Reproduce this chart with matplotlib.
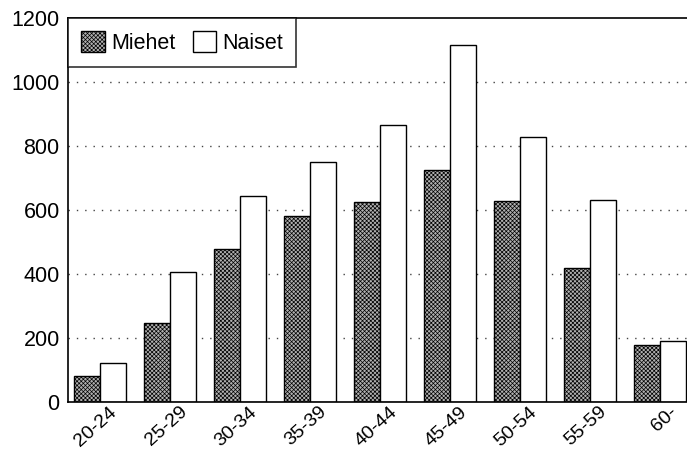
import numpy as np
import matplotlib
matplotlib.use("Agg")
import matplotlib.pyplot as plt
import matplotlib.transforms as mtransforms

plt.rcParams['font.family'] = ['Liberation Sans', 'DejaVu Sans']
plt.rcParams['hatch.color'] = '#5e5e5e'
plt.rcParams['hatch.linewidth'] = 0.5

# data
age_groups = ["20-24", "25-29", "30-34", "35-39", "40-44", "45-49", "50-54", "55-59", "60-"]
miehet = [80, 247, 477, 583, 626, 726, 629, 419, 178]
naiset = [121, 407, 645, 751, 866, 1117, 829, 632, 190]

fig = plt.figure(figsize=(6.87, 4.53), dpi=100)
ax = fig.add_axes([0.099, 0.1126, 0.92, 0.847])

x = np.arange(len(age_groups))
w = 0.375
ax.bar(x - w / 2, miehet, w, facecolor='#b0b0b0', edgecolor='black',
       linewidth=1.0, hatch='xxxxxxxx', label='Miehet', zorder=2)
ax.bar(x + w / 2, naiset, w, facecolor='white', edgecolor='black',
       linewidth=1.0, label='Naiset', zorder=2)

ax.set_xlim(-0.457, 8.571)
ax.set_ylim(0, 1200)
ax.set_yticks([0, 200, 400, 600, 800, 1000, 1200])
ax.set_xticks(x)
ax.set_xticklabels(age_groups, rotation=42, ha='right', rotation_mode='anchor')
ax.tick_params(length=0, labelsize=15.5, pad=6)
ax.tick_params(axis='x', labelsize=14, pad=1)

# nudge x labels to the right like in the original
shift = mtransforms.ScaledTranslation(9 / 100, 0, fig.dpi_scale_trans)
for lab in ax.get_xticklabels():
    lab.set_transform(lab.get_transform() + shift)

for v in [200, 400, 600, 800, 1000]:
    ax.axhline(v, color='#444444', linestyle=(0, (1, 5)), linewidth=1.0, zorder=1)

for s in ax.spines.values():
    s.set_linewidth(1.2)

leg = ax.legend(loc='upper left', ncol=2, fontsize=15.5, frameon=True, fancybox=False,
                edgecolor='black', borderaxespad=0, handlelength=1.1,
                handleheight=1.1, handletextpad=0.3, columnspacing=0.8,
                borderpad=0.6)
leg.get_frame().set_linewidth(1.2)

fig.savefig("out.png", dpi=100)
